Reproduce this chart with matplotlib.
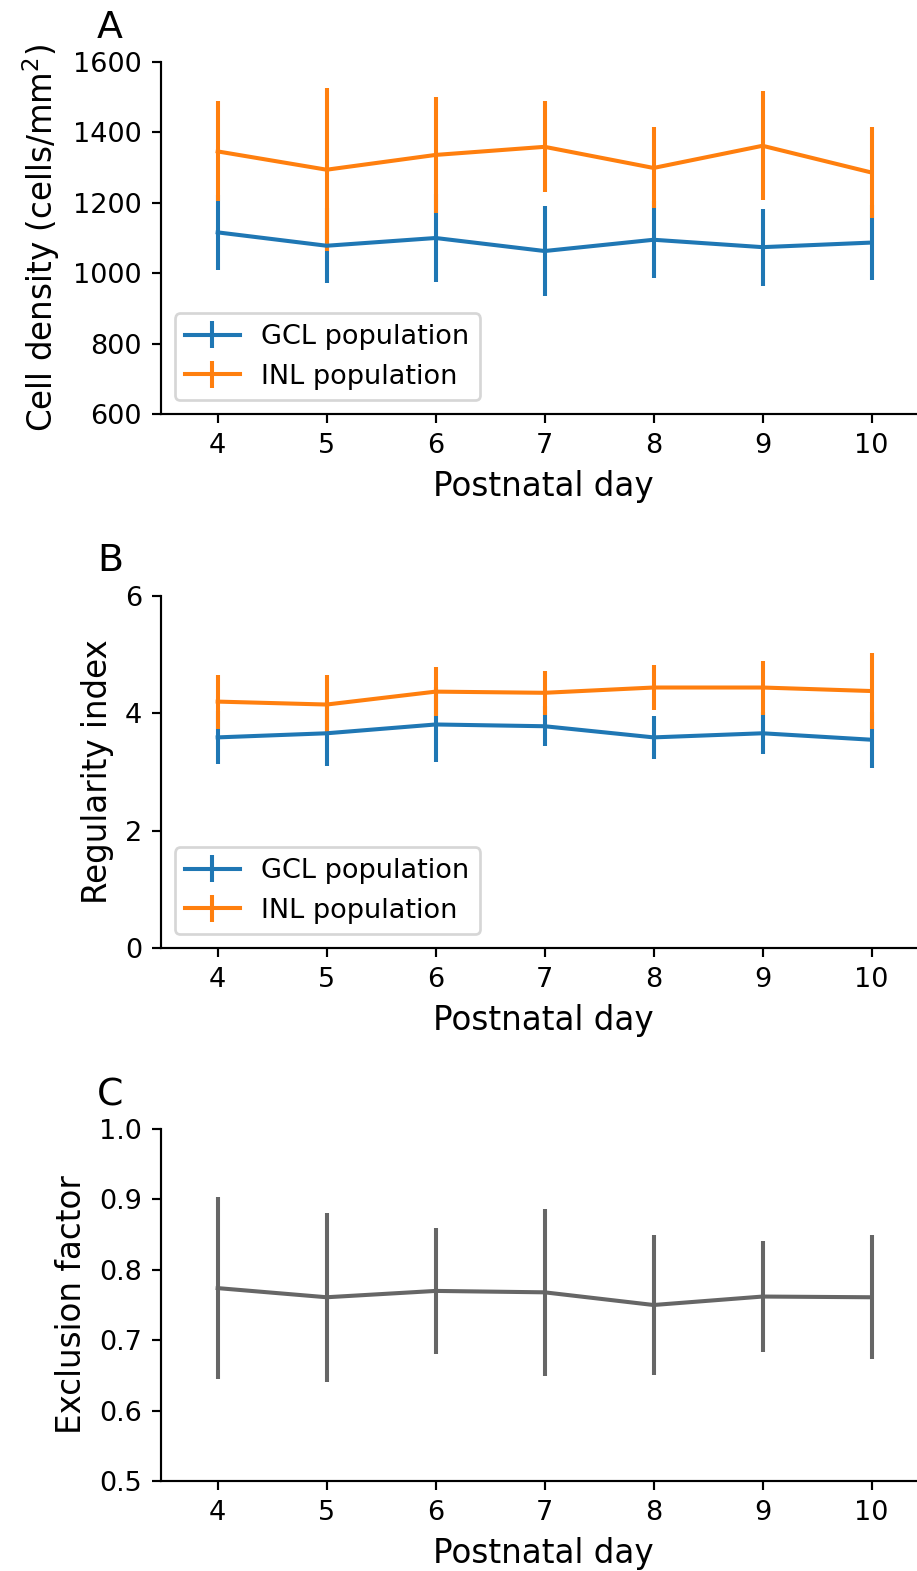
"""Cell density, regularity index and exclusion factor across postnatal days."""

import matplotlib
matplotlib.use("Agg")
import matplotlib.pyplot as plt

days = [4, 5, 6, 7, 8, 9, 10]

# panel A: cell density (cells/mm^2)
gcl_density = [1116, 1078, 1100, 1063, 1095, 1074, 1087]
gcl_density_sd = [107, 107, 124, 129, 109, 109, 106]
inl_density = [1346, 1294, 1336, 1359, 1299, 1362, 1286]
inl_density_sd = [142, 232, 165, 129, 115, 155, 128]

# panel B: regularity index
gcl_ri = [3.59, 3.66, 3.81, 3.78, 3.59, 3.66, 3.55]
gcl_ri_sd = [0.45, 0.55, 0.64, 0.34, 0.36, 0.36, 0.48]
inl_ri = [4.20, 4.15, 4.37, 4.35, 4.44, 4.44, 4.38]
inl_ri_sd = [0.46, 0.51, 0.42, 0.38, 0.38, 0.46, 0.64]

# panel C: exclusion factor
excl = [0.774, 0.761, 0.770, 0.768, 0.750, 0.762, 0.761]
excl_sd = [0.129, 0.120, 0.090, 0.119, 0.099, 0.079, 0.088]

DPI = 195
W, H = 917, 1571


def style_axes(ax, ylim, yticks, ylabel):
    ax.spines["top"].set_visible(False)
    ax.spines["right"].set_visible(False)
    ax.set_xlim(3.48, 10.5)
    ax.set_xticks(days)
    ax.set_ylim(*ylim)
    ax.set_yticks(yticks)
    ax.set_xlabel("Postnatal day", fontsize=12)
    ax.set_ylabel(ylabel, fontsize=12)
    ax.tick_params(labelsize=10)


def main() -> None:
    fig = plt.figure(figsize=(W / DPI, H / DPI), dpi=DPI)

    left = 161 / W
    width = (926 - 161) / W
    height = 352 / H
    bottoms = [1 - 414 / H, 1 - 948 / H, 1 - 1481 / H]
    axA = fig.add_axes([left, bottoms[0], width, height])
    axB = fig.add_axes([left, bottoms[1], width, height])
    axC = fig.add_axes([left, bottoms[2], width, height])

    axA.errorbar(days, gcl_density, yerr=gcl_density_sd, color="tab:blue", label="GCL population")
    axA.errorbar(days, inl_density, yerr=inl_density_sd, color="tab:orange", label="INL population")
    style_axes(axA, (600, 1600), range(600, 1601, 200), "Cell density (cells/mm$^2$)")
    axA.legend(loc="lower left")

    axB.errorbar(days, gcl_ri, yerr=gcl_ri_sd, color="tab:blue", label="GCL population")
    axB.errorbar(days, inl_ri, yerr=inl_ri_sd, color="tab:orange", label="INL population")
    style_axes(axB, (0, 6), [0, 2, 4, 6], "Regularity index")
    axB.legend(loc="lower left")

    axC.errorbar(days, excl, yerr=excl_sd, color="#666666")
    style_axes(axC, (0.5, 1.0), [0.5, 0.6, 0.7, 0.8, 0.9, 1.0], "Exclusion factor")

    # panel letters sit above the top-left of each axes
    for letter, top_px in zip("ABC", [62, 595, 1129]):
        fig.text(97 / W, 1 - (top_px - 24) / H, letter, fontsize=14, ha="left", va="baseline")

    fig.savefig("out.png", dpi=DPI)
    plt.close(fig)


if __name__ == "__main__":
    main()
